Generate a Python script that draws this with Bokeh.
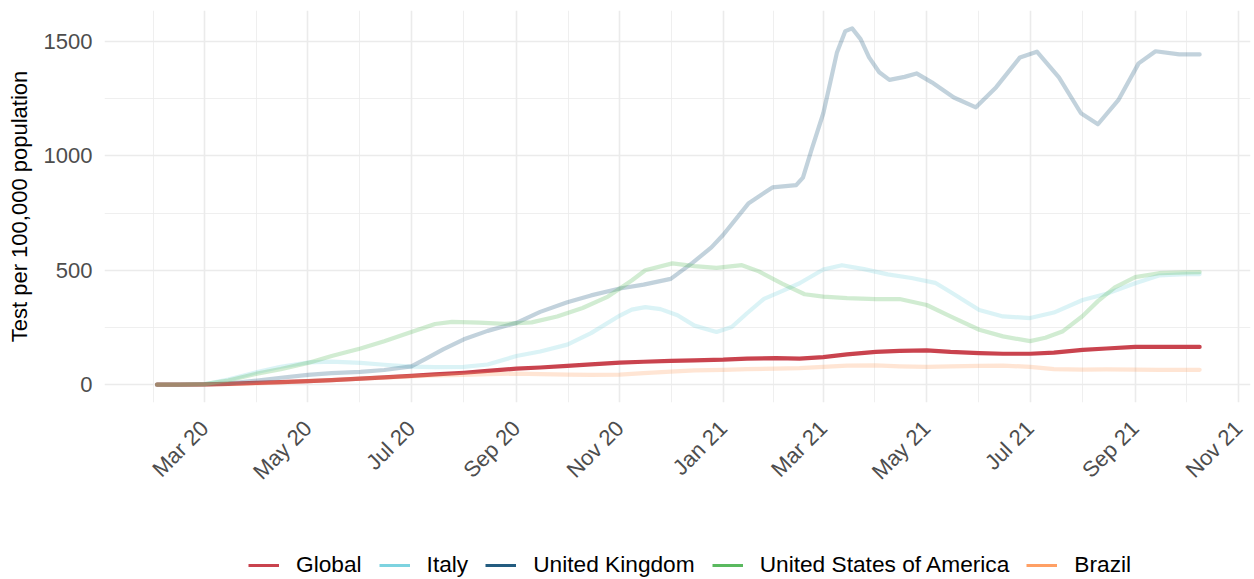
import math
from datetime import datetime
import pandas as pd
from bokeh.plotting import figure
from bokeh.models import (Range1d, FixedTicker, DatetimeTickFormatter, Legend,
                          LegendItem, ColumnDataSource)
from bokeh.layouts import column
from bokeh.embed import file_html
from bokeh.resources import INLINE

# ---------------- data ----------------
global_dates = ["2020-02-02", "2020-02-15", "2020-03-01", "2020-03-15", "2020-04-01", "2020-04-15",
                "2020-05-01", "2020-05-15", "2020-06-01", "2020-06-15", "2020-07-01", "2020-07-15",
                "2020-08-01", "2020-08-15", "2020-09-01", "2020-09-15", "2020-10-01", "2020-10-15",
                "2020-11-01", "2020-11-15", "2020-12-01", "2020-12-15", "2021-01-01", "2021-01-15",
                "2021-02-01", "2021-02-15", "2021-03-01", "2021-03-15", "2021-04-01", "2021-04-15",
                "2021-05-01", "2021-05-15", "2021-06-01", "2021-06-15", "2021-07-01", "2021-07-15",
                "2021-08-01", "2021-08-15", "2021-09-01", "2021-09-15", "2021-10-01", "2021-10-09"]
global_vals = [0, 0, 1, 3, 8, 11, 15, 20, 26, 32, 38, 45, 52, 60, 70, 75, 82, 89,
               96, 100, 104, 106, 109, 114, 116, 114, 120, 132, 143, 148, 150, 143,
               138, 135, 135, 140, 152, 158, 165, 165, 165, 165]

brazil_dates = global_dates
brazil_vals = [0, 0, 0, 2, 6, 10, 15, 20, 26, 31, 36, 40, 43, 46, 48, 46, 44, 43,
               44, 50, 57, 62, 65, 68, 70, 72, 78, 83, 84, 80, 78, 80,
               82, 83, 78, 68, 66, 67, 66, 65, 65, 65]

italy_dates = ["2020-02-02", "2020-02-15", "2020-03-01", "2020-03-15", "2020-04-01", "2020-04-15",
               "2020-05-01", "2020-05-15", "2020-06-01", "2020-06-15", "2020-07-01", "2020-07-15",
               "2020-08-01", "2020-08-15", "2020-09-01", "2020-09-15", "2020-10-01", "2020-10-15",
               "2020-11-01", "2020-11-08", "2020-11-16", "2020-11-25", "2020-12-05", "2020-12-15",
               "2020-12-28", "2021-01-06", "2021-01-15", "2021-01-25", "2021-02-05", "2021-02-15",
               "2021-03-01", "2021-03-12", "2021-03-25", "2021-04-08", "2021-04-22", "2021-05-06",
               "2021-05-15", "2021-06-01", "2021-06-15", "2021-07-01", "2021-07-15", "2021-08-01",
               "2021-08-15", "2021-09-01", "2021-09-15", "2021-10-01", "2021-10-09"]
italy_vals = [0, 0, 2, 22, 55, 78, 97, 101, 95, 87, 79, 77, 78, 88, 125, 145, 175, 225,
              302, 328, 339, 330, 303, 258, 230, 252, 312, 375, 410, 443,
              503, 522, 505, 482, 466, 445, 405, 326, 298, 291, 315, 370,
              397, 443, 477, 483, 483]

uk_dates = ["2020-02-02", "2020-02-15", "2020-03-01", "2020-03-15", "2020-04-01", "2020-04-15",
            "2020-05-01", "2020-05-15", "2020-06-01", "2020-06-15", "2020-07-01", "2020-07-10",
            "2020-07-20", "2020-08-01", "2020-08-15", "2020-09-01", "2020-09-15", "2020-10-01",
            "2020-10-15", "2020-11-01", "2020-11-15", "2020-12-01", "2020-12-14", "2020-12-25",
            "2021-01-01", "2021-01-16", "2021-01-30", "2021-02-13", "2021-02-17", "2021-02-22",
            "2021-03-01", "2021-03-05", "2021-03-09", "2021-03-14", "2021-03-18", "2021-03-23",
            "2021-03-28", "2021-04-03", "2021-04-09", "2021-04-18", "2021-04-25", "2021-05-04",
            "2021-05-17", "2021-05-30", "2021-06-11", "2021-06-25", "2021-07-05", "2021-07-18",
            "2021-07-31", "2021-08-10", "2021-08-22", "2021-09-03", "2021-09-13", "2021-09-27",
            "2021-10-09"]
uk_vals = [0, 0, 1, 5, 18, 30, 43, 50, 56, 64, 80, 115, 155, 198, 235, 270, 318, 360,
           390, 420, 437, 462, 533, 600, 655, 793, 862, 872, 905, 1025, 1186, 1317,
           1450, 1545, 1557, 1510, 1430, 1365, 1332, 1345, 1360, 1321, 1255, 1212,
           1300, 1430, 1455, 1343, 1186, 1138, 1243, 1404, 1457, 1443, 1443]

usa_dates = ["2020-02-02", "2020-02-15", "2020-03-01", "2020-03-15", "2020-04-01", "2020-04-15",
             "2020-05-01", "2020-05-15", "2020-06-01", "2020-06-15", "2020-07-01", "2020-07-15",
             "2020-07-25", "2020-08-10", "2020-08-25", "2020-09-10", "2020-09-25", "2020-10-10",
             "2020-10-25", "2020-11-08", "2020-11-16", "2020-12-02", "2020-12-15", "2020-12-28",
             "2021-01-12", "2021-01-22", "2021-02-05", "2021-02-18", "2021-03-01", "2021-03-15",
             "2021-04-01", "2021-04-15", "2021-05-01", "2021-05-15", "2021-06-01", "2021-06-15",
             "2021-07-01", "2021-07-10", "2021-07-20", "2021-08-01", "2021-08-10", "2021-08-20",
             "2021-09-01", "2021-09-15", "2021-10-01", "2021-10-09"]
usa_vals = [0, 0, 2, 18, 48, 68, 95, 125, 158, 190, 230, 265, 274, 271, 266, 272, 298, 335,
            385, 455, 500, 530, 518, 510, 522, 495, 440, 395, 385, 378,
            374, 374, 348, 298, 240, 211, 190, 205, 232, 300, 365, 425,
            470, 487, 491, 492]

names = ["Global", "Italy", "United Kingdom", "United States of America", "Brazil"]
colors = ["#C9434E", "#7DD3E0", "#235C80", "#5AB95F", "#FFA065"]
alphas = [1.0, 0.28, 0.28, 0.28, 0.28]

y_major = [0, 500, 1000, 1500]
y_minor = [250, 750, 1250]

# ---------------- figure ----------------
FONT = "Liberation Sans"

p = figure(width=1254, height=500, x_axis_type="datetime", toolbar_location=None,
           output_backend="svg",
           x_range=Range1d(datetime(2020, 1, 2), datetime(2021, 11, 8)),
           y_range=Range1d(-78, 1635),
           min_border_left=104, min_border_right=4, min_border_top=10,
           min_border_bottom=98)
p.outline_line_color = None
p.background_fill_color = "white"
p.border_fill_color = "white"

series = [
    (global_dates, global_vals), (italy_dates, italy_vals), (uk_dates, uk_vals),
    (usa_dates, usa_vals), (brazil_dates, brazil_vals)
]
for (d, v), name, c, a in zip(series, names, colors, alphas):
    src = ColumnDataSource(dict(x=pd.to_datetime(d), y=v))
    p.line("x", "y", source=src, line_color=c, line_alpha=a, line_width=4.2,
           line_join="round", line_cap="round")

# x ticks: every two months, minor halfway
epoch = datetime(1970, 1, 1)
def ms(d):
    return (d - epoch).total_seconds() * 1000.0

majors = [datetime(y, m, 1) for y in (2020, 2021) for m in (1, 3, 5, 7, 9, 11)] + [datetime(2022, 1, 1)]
major_ms = [ms(d) for d in majors]
minor_ms = [(a + b) / 2 for a, b in zip(major_ms[:-1], major_ms[1:])]

p.xaxis.ticker = FixedTicker(ticks=major_ms, minor_ticks=minor_ms)
fmt = "%b %y"
p.xaxis.formatter = DatetimeTickFormatter(milliseconds=fmt, seconds=fmt, minsec=fmt, minutes=fmt,
                                          hourmin=fmt, hours=fmt, days=fmt, months=fmt, years=fmt)
p.xaxis.major_label_orientation = math.pi / 4
p.xaxis.major_label_standoff = 22

p.yaxis.ticker = FixedTicker(ticks=y_major, minor_ticks=y_minor)
p.yaxis.major_label_standoff = 12
p.yaxis.axis_label = "Test per 100,000 population"
p.yaxis.axis_label_text_font = FONT
p.yaxis.axis_label_text_font_size = "22px"
p.yaxis.axis_label_text_font_style = "normal"
p.yaxis.axis_label_text_color = "#000000"
p.yaxis.axis_label_standoff = 9

for ax in (p.xaxis, p.yaxis):
    ax.axis_line_color = None
    ax.major_tick_line_color = None
    ax.minor_tick_line_color = None
    ax.major_tick_out = 0
    ax.major_tick_in = 0
    ax.minor_tick_out = 0
    ax.minor_tick_in = 0
    ax.major_label_text_font = FONT
    ax.major_label_text_font_size = "22px"
    ax.major_label_text_color = "#4D4D4D"

for g in (p.xgrid, p.ygrid):
    g.grid_line_color = "#EBEBEB"
    g.grid_line_width = 1.6
    g.minor_grid_line_color = "#EBEBEB"
    g.minor_grid_line_width = 0.8

# ---------------- legend strip ----------------
leg = figure(width=1254, height=79, toolbar_location=None, output_backend="svg",
             x_axis_location=None, y_axis_location=None,
             x_range=Range1d(0, 1), y_range=Range1d(0, 1), min_border=0)
leg.outline_line_color = None
leg.xgrid.visible = False
leg.ygrid.visible = False

items = []
nan = float("nan")
for name, c in zip(names, colors):
    r = leg.line(x=[nan], y=[nan], line_color=c, line_width=3)
    items.append(LegendItem(label=name, renderers=[r]))

legend = Legend(items=items, orientation="horizontal", location=(144, 1),
                padding=0, margin=0, spacing=17, label_standoff=17,
                glyph_width=31, glyph_height=20, label_height=20,
                label_text_font=FONT, label_text_font_size="22.7px",
                label_text_color="#000000", border_line_color=None,
                background_fill_alpha=0)
leg.add_layout(legend, "center")

layout = column(p, leg, spacing=0)
open("out.html", "w").write(file_html(layout, INLINE))
